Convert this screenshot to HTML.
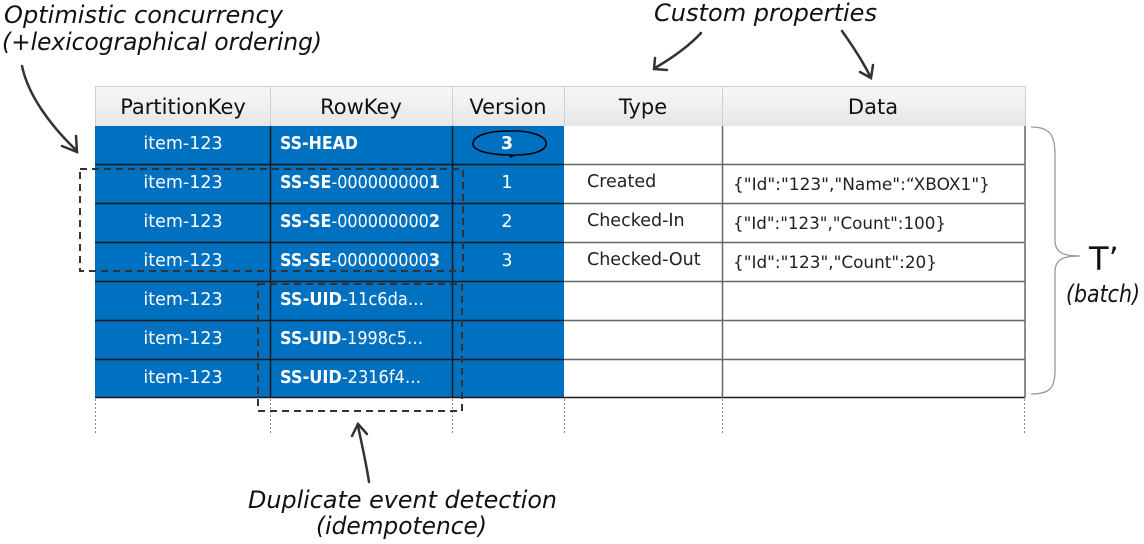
<!DOCTYPE html>
<html><head><meta charset="utf-8"><style>
html,body{margin:0;padding:0;background:#fff;width:1144px;height:544px;overflow:hidden}
svg{display:block}
.h{font-family:"DejaVu Sans","Liberation Sans",sans-serif;font-size:21px;fill:#111}
.b{font-family:"DejaVu Sans","Liberation Sans",sans-serif;font-size:17.5px;fill:#fff}
.w{font-family:"DejaVu Sans","Liberation Sans",sans-serif;font-size:17.5px;fill:#222}
.hand{font-family:"DejaVu Sans","Liberation Sans",sans-serif;font-style:italic;font-size:24px;fill:#111}
</style></head><body>
<svg width="1144" height="544" xmlns="http://www.w3.org/2000/svg">
<defs>
<linearGradient id="hg" x1="0" y1="0" x2="0" y2="1"><stop offset="0" stop-color="#f8f8f8"/><stop offset="1" stop-color="#e6e6e6"/></linearGradient>
</defs>
<rect x="95" y="86" width="930" height="40" fill="url(#hg)"/>
<g stroke="#cfcfcf" stroke-width="1">
<line x1="270.5" y1="86" x2="270.5" y2="126"/><line x1="452.5" y1="86" x2="452.5" y2="126"/>
<line x1="564.5" y1="86" x2="564.5" y2="126"/><line x1="722.5" y1="86" x2="722.5" y2="126"/>
<line x1="95" y1="86.5" x2="1025" y2="86.5"/>
<line x1="95.5" y1="86" x2="95.5" y2="126"/><line x1="1025.5" y1="86" x2="1025.5" y2="126"/>
</g>
<text class="h" x="183" y="114" text-anchor="middle">PartitionKey</text>
<text class="h" x="361" y="114" text-anchor="middle">RowKey</text>
<text class="h" x="508" y="114" text-anchor="middle">Version</text>
<text class="h" x="643" y="114" text-anchor="middle">Type</text>
<text class="h" x="873" y="114" text-anchor="middle">Data</text>
<rect x="95" y="126" width="469" height="272" fill="#0070c0"/>
<g stroke="#1a1a1a" stroke-width="1.5">
<line x1="95" y1="164.5" x2="564" y2="164.5"/><line x1="95" y1="203.5" x2="564" y2="203.5"/>
<line x1="95" y1="242.5" x2="564" y2="242.5"/><line x1="95" y1="281.5" x2="564" y2="281.5"/>
<line x1="95" y1="320.5" x2="564" y2="320.5"/><line x1="95" y1="359.5" x2="564" y2="359.5"/>
<line x1="95" y1="397.5" x2="1025" y2="397.5"/>
<line x1="270.5" y1="126" x2="270.5" y2="398"/><line x1="452.5" y1="126" x2="452.5" y2="398"/>
</g>
<g stroke="#666" stroke-width="1.5">
<line x1="564" y1="164.5" x2="1025" y2="164.5"/><line x1="564" y1="203.5" x2="1025" y2="203.5"/>
<line x1="564" y1="242.5" x2="1025" y2="242.5"/><line x1="564" y1="281.5" x2="1025" y2="281.5"/>
<line x1="564" y1="320.5" x2="1025" y2="320.5"/><line x1="564" y1="359.5" x2="1025" y2="359.5"/>
<line x1="722.5" y1="126" x2="722.5" y2="398"/><line x1="1025" y1="126" x2="1025" y2="398"/>
</g>
<g stroke="#888" stroke-width="1" stroke-dasharray="2,2">
<line x1="95.5" y1="399" x2="95.5" y2="435"/><line x1="270.5" y1="399" x2="270.5" y2="435"/>
<line x1="452.5" y1="399" x2="452.5" y2="435"/><line x1="564.5" y1="399" x2="564.5" y2="435"/>
<line x1="722.5" y1="399" x2="722.5" y2="435"/><line x1="1024.5" y1="399" x2="1024.5" y2="435"/>
</g>
<g class="b" text-anchor="middle">
<text x="183" y="149">item-123</text><text x="183" y="188">item-123</text><text x="183" y="227">item-123</text>
<text x="183" y="266">item-123</text><text x="183" y="305">item-123</text><text x="183" y="344">item-123</text><text x="183" y="383">item-123</text>
<text x="507" y="188">1</text><text x="507" y="227">2</text><text x="507" y="266">3</text>
<text x="507" y="149" font-weight="bold">3</text>
</g>
<g class="b">
<text x="280" y="149" font-weight="bold" textLength="78" lengthAdjust="spacingAndGlyphs">SS-HEAD</text>
<text x="280" y="188" textLength="160" lengthAdjust="spacingAndGlyphs"><tspan font-weight="bold">SS-SE</tspan>-000000000<tspan font-weight="bold">1</tspan></text>
<text x="280" y="227" textLength="160" lengthAdjust="spacingAndGlyphs"><tspan font-weight="bold">SS-SE</tspan>-000000000<tspan font-weight="bold">2</tspan></text>
<text x="280" y="266" textLength="160" lengthAdjust="spacingAndGlyphs"><tspan font-weight="bold">SS-SE</tspan>-000000000<tspan font-weight="bold">3</tspan></text>
<text x="280" y="305" textLength="144" lengthAdjust="spacingAndGlyphs"><tspan font-weight="bold">SS-UID</tspan>-11c6da…</text>
<text x="280" y="344" textLength="143" lengthAdjust="spacingAndGlyphs"><tspan font-weight="bold">SS-UID</tspan>-1998c5…</text>
<text x="280" y="383" textLength="141" lengthAdjust="spacingAndGlyphs"><tspan font-weight="bold">SS-UID</tspan>-2316f4…</text>
</g>
<path d="M508 131 C530 130 548 136 546 145 C544 152 530 155 515 155 L510 157 L512 155 C490 155 473 151 473 144 C473 135 490 131 508 131 Z" fill="none" stroke="#000" stroke-width="1.6"/>
<g class="w">
<text x="587" y="187">Created</text><text x="587" y="226">Checked-In</text><text x="587" y="265">Checked-Out</text>
<text x="733" y="190" font-size="16.5" textLength="257" lengthAdjust="spacingAndGlyphs">{"Id":"123","Name":“XBOX1"}</text>
<text x="733" y="229" font-size="16.5" textLength="213" lengthAdjust="spacingAndGlyphs">{"Id":"123","Count":100}</text>
<text x="733" y="268" font-size="16.5" textLength="204" lengthAdjust="spacingAndGlyphs">{"Id":"123","Count":20}</text>
</g>
<g fill="none" stroke="#333" stroke-width="2" stroke-dasharray="7,5">
<rect x="80" y="169" width="383" height="102"/>
<rect x="258" y="284" width="204" height="127"/>
</g>
<path d="M1031 127 C1050 127 1055 135 1055 155 L1055 240 C1055 252 1062 256 1080 256 C1062 256 1055 260 1055 272 L1055 370 C1055 388 1050 394 1031 394" fill="none" stroke="#999" stroke-width="1.3"/>
<text x="1089" y="270" font-family="DejaVu Sans, sans-serif" font-size="32" fill="#111">T’</text>
<text class="hand" x="1066" y="302" font-size="18" textLength="74" lengthAdjust="spacingAndGlyphs">(batch)</text>
<text class="hand" x="4" y="23" textLength="279" lengthAdjust="spacingAndGlyphs">Optimistic concurrency</text>
<text class="hand" x="2" y="50" textLength="320" lengthAdjust="spacingAndGlyphs">(+lexicographical ordering)</text>
<text class="hand" x="654" y="21" textLength="223" lengthAdjust="spacingAndGlyphs">Custom properties</text>
<text class="hand" x="248" y="508" textLength="309" lengthAdjust="spacingAndGlyphs">Duplicate event detection</text>
<text class="hand" x="316" y="534" textLength="171" lengthAdjust="spacingAndGlyphs">(idempotence)</text>
<g fill="none" stroke="#333" stroke-width="2.5" stroke-linecap="round">
<path d="M22 66 C28 95 50 125 76 150"/><path d="M62 146 L77 152 L76 136"/>
<path d="M701 33 C690 45 672 58 655 68"/><path d="M655 58 L654 69 L667 70"/>
<path d="M842 31 C852 45 862 60 870 76"/><path d="M860 72 L871 78 L873 65"/>
<path d="M369 482 C366 462 362 445 358 426"/><path d="M352 436 L358 424 L367 434"/>
</g>
</svg>
</body></html>
